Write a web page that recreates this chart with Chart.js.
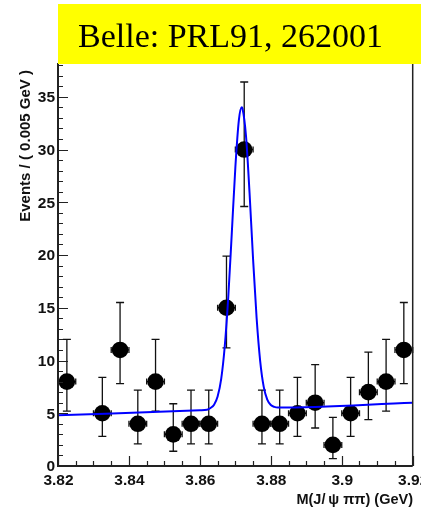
<!DOCTYPE html>
<html>
<head>
<meta charset="utf-8">
<script src="https://cdn.jsdelivr.net/npm/chart.js@4/dist/chart.umd.min.js"></script>
<style>
html,body{margin:0;padding:0;background:#fff;overflow:hidden;}
canvas{display:block;}
</style>
</head>
<body>
<canvas id="c" width="421" height="508"></canvas>
<script>
// ---- data ----
const binCenters = [3.8225, 3.8325, 3.8375, 3.8425, 3.8475, 3.8525, 3.8575, 3.8625, 3.8675, 3.8725,
                    3.8775, 3.8825, 3.8875, 3.8925, 3.8975, 3.9025, 3.9075, 3.9125, 3.9175];
const counts     = [8, 5, 11, 4, 8, 3, 4, 4, 15, 30, 4, 4, 5, 6, 2, 5, 7, 8, 11];
const errLow     = [5.2, 2.8, 7.8, 2.1, 5.2, 1.4, 2.1, 2.1, 11.2, 24.6, 2.1, 2.1, 2.8, 3.6, 0.7, 2.8, 4.4, 5.2, 7.8];
const errHigh    = [12.0, 8.4, 15.5, 7.2, 12.0, 5.9, 7.2, 7.2, 19.9, 36.4, 7.2, 7.2, 8.4, 9.6, 4.6, 8.4, 10.8, 12.0, 15.5];
const binHalfWidth = 0.0025;

const fitX = [3.82, 3.86, 3.862, 3.863, 3.864, 3.865, 3.866, 3.867, 3.868, 3.869, 3.870, 3.871, 3.8718, 3.872,
              3.873, 3.874, 3.875, 3.876, 3.877, 3.878, 3.879, 3.880, 3.881, 3.882, 3.92];
const fitY = [4.80, 5.28, 5.33, 5.50, 5.81, 6.58, 8.23, 11.3, 16.0, 22.1, 28.3, 32.8, 34.0, 33.9,
              31.3, 25.9, 19.6, 14.0, 9.95, 7.5, 6.3, 5.78, 5.6, 5.54, 6.0];

const xTickValues = [3.82, 3.84, 3.86, 3.88, 3.90, 3.92];
const xTickLabels = ['3.82', '3.84', '3.86', '3.88', '3.9', '3.92'];
const yTickValues = [0, 5, 10, 15, 20, 25, 30, 35];
const yTickLabels = ['0', '5', '10', '15', '20', '25', '30', '35'];

const titleText = 'Belle: PRL91, 262001';
const xTitle = 'M(J/\u202F\u03C8 \u03C0\u03C0) (GeV)';
const yTitle = 'Events / ( 0.005 GeV )';

// ---- build datasets ----
const pointData = binCenters.map((x, i) => ({x: x, y: counts[i]}));
const fitData = fitX.map((x, i) => ({x: x, y: fitY[i]}));

const rootPlugin = {
  id: 'rootStyle',
  beforeDatasetsDraw(chart) {
    const ctx = chart.ctx, xs = chart.scales.x, ys = chart.scales.y;
    ctx.save();
    ctx.strokeStyle = '#111';
    ctx.lineWidth = 1.3;
    binCenters.forEach((x, i) => {
      const px = xs.getPixelForValue(x);
      const py = ys.getPixelForValue(counts[i]);
      const yl = ys.getPixelForValue(errLow[i]);
      const yh = ys.getPixelForValue(errHigh[i]);
      const xl = xs.getPixelForValue(x - binHalfWidth);
      const xh = xs.getPixelForValue(x + binHalfWidth);
      ctx.beginPath();
      ctx.moveTo(px, yl); ctx.lineTo(px, yh);
      ctx.moveTo(px - 4, yl); ctx.lineTo(px + 4, yl);
      ctx.moveTo(px - 4, yh); ctx.lineTo(px + 4, yh);
      ctx.moveTo(xl, py); ctx.lineTo(xh, py);
      ctx.moveTo(xl, py - 3); ctx.lineTo(xl, py + 3);
      ctx.moveTo(xh, py - 3); ctx.lineTo(xh, py + 3);
      ctx.stroke();
    });
    ctx.restore();
  },
  afterDraw(chart) {
    const ctx = chart.ctx, xs = chart.scales.x, ys = chart.scales.y;
    const a = chart.chartArea;
    ctx.save();
    // frame
    ctx.strokeStyle = '#222';
    ctx.lineWidth = 2;
    ctx.beginPath();
    ctx.moveTo(a.left, a.top); ctx.lineTo(a.left, a.bottom); ctx.lineTo(a.right, a.bottom);
    ctx.stroke();
    ctx.lineWidth = 1.5;
    ctx.beginPath();
    ctx.moveTo(a.right, a.top); ctx.lineTo(a.right, a.bottom);
    ctx.stroke();

    // ticks
    ctx.lineWidth = 1.2;
    ctx.beginPath();
    for (let v = ys.min; v <= ys.max + 1e-9; v += 1) {
      const py = Math.round(ys.getPixelForValue(v)) + 0.5;
      const len = (Math.round(v) % 5 === 0) ? 10 : 5;
      ctx.moveTo(a.left, py); ctx.lineTo(a.left + len, py);
    }
    for (let k = 0; k <= 20; k++) {
      const v = 3.82 + k * 0.005;
      const px = Math.round(xs.getPixelForValue(v)) + 0.5;
      const len = (k % 4 === 0) ? 10 : 5;
      ctx.moveTo(px, a.bottom); ctx.lineTo(px, a.bottom - len);
    }
    ctx.stroke();

    // tick labels
    ctx.fillStyle = '#111';
    ctx.font = 'bold 15.5px "Liberation Sans", Arial, sans-serif';
    ctx.textAlign = 'right';
    ctx.textBaseline = 'middle';
    yTickValues.forEach((v, i) => {
      ctx.fillText(yTickLabels[i], a.left - 3, ys.getPixelForValue(v) + 1);
    });
    ctx.textAlign = 'center';
    xTickValues.forEach((v, i) => {
      ctx.fillText(xTickLabels[i], xs.getPixelForValue(v) + 0.5, a.bottom + 15);
    });

    // axis titles
    ctx.font = 'bold 14.5px "Liberation Sans", Arial, sans-serif';
    ctx.textAlign = 'right';
    ctx.textBaseline = 'middle';
    ctx.fillText(xTitle, 413, 500);
    ctx.save();
    ctx.font = 'bold 15px "Liberation Sans", Arial, sans-serif';
    ctx.translate(26, a.top + 7);
    ctx.rotate(-Math.PI / 2);
    ctx.textAlign = 'right';
    ctx.fillText(yTitle, 0, 0);
    ctx.restore();

    // yellow title box
    ctx.fillStyle = '#ffff00';
    ctx.fillRect(58, 4, 421 - 58, 60);
    ctx.fillStyle = '#000';
    ctx.font = '34px "Liberation Serif", "Times New Roman", serif';
    ctx.textAlign = 'left';
    ctx.textBaseline = 'alphabetic';
    ctx.fillText(titleText, 78, 47);
    ctx.restore();
  }
};

new Chart(document.getElementById('c'), {
  type: 'scatter',
  data: {
    datasets: [
      {
        type: 'line',
        label: 'fit',
        data: fitData,
        borderColor: '#0000ff',
        borderWidth: 2,
        pointRadius: 0,
        fill: false,
        cubicInterpolationMode: 'monotone',
        order: 0
      },
      {
        type: 'scatter',
        label: 'data',
        data: pointData,
        pointRadius: 8.3,
        pointHoverRadius: 8.3,
        backgroundColor: '#000',
        borderColor: '#000',
        borderWidth: 0,
        order: 1
      }
    ]
  },
  options: {
    responsive: false,
    animation: false,
    events: [],
    layout: { padding: { left: 58, right: 5, top: 63, bottom: 42 } },
    scales: {
      x: { type: 'linear', min: 3.82, max: 3.92, display: false },
      y: { type: 'linear', min: 0, max: 38.2, display: false }
    },
    plugins: { legend: { display: false }, tooltip: { enabled: false } }
  },
  plugins: [rootPlugin]
});
</script>
</body>
</html>
